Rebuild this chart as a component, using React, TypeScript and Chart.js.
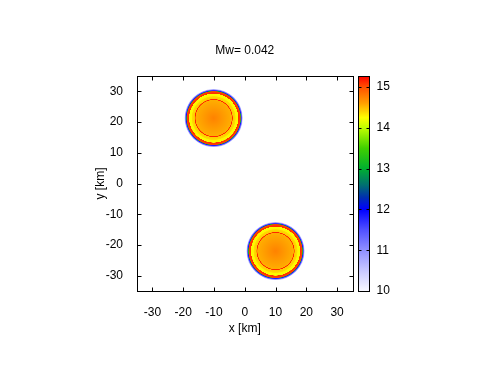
import { useEffect, useRef } from "react";
import { Chart, registerables } from "chart.js";

Chart.register(...registerables);

// ---- data ----
const chartTitle = "Mw= 0.042";
const xTitle = "x [km]";
const yTitle = "y [km]";
const xTicks = [-30, -20, -10, 0, 10, 20, 30];
const yTicks = [-30, -20, -10, 0, 10, 20, 30];
const cbTicks = [10, 11, 12, 13, 14, 15];
const axisMin = -35;
const axisMax = 35;
const cbMin = 10;
const cbMax = 15.27;

// patch centres (km)
const sourceX = [-10.1, 10];
const sourceY = [21.3, -22];
// radial slip profile of each patch: radius (km) -> value
const profileR = [0, 5.85, 5.95, 6.12, 6.22, 7.0, 7.2, 7.95, 8.0, 8.65, 8.8, 8.9, 9.15, 9.45];
const profileV = [14.75, 14.55, 15.15, 15.15, 14.45, 14.38, 14.28, 14.22, 15.12, 15.05, 13.1, 11.9, 11.2, 10.4];

// colour palette
const paletteV = [10.0, 10.5, 11.0, 11.5, 12.0, 12.3, 12.6, 13.0, 13.5, 14.0, 14.25, 14.6, 15.0, 15.27];
const paletteC = [
  "#f8f8ff", "#c8c8ff", "#9090ff", "#5050ff", "#0000ff", "#0030b0", "#007070",
  "#00b030", "#40d000", "#c0ff00", "#ffff00", "#ffa000", "#ff5000", "#ff0000",
];

const FONT = "Liberation Sans, Arial, sans-serif";

function hexToRgb(h: string) {
  const n = parseInt(h.slice(1), 16);
  return [(n >> 16) & 255, (n >> 8) & 255, n & 255];
}
function colorFor(v: number) {
  if (v <= paletteV[0]) return paletteC[0];
  for (let i = 1; i < paletteV.length; i++) {
    if (v <= paletteV[i]) {
      const t = (v - paletteV[i - 1]) / (paletteV[i] - paletteV[i - 1]);
      const a = hexToRgb(paletteC[i - 1]);
      const b = hexToRgb(paletteC[i]);
      const c = a.map((x, k) => Math.round(x + (b[k] - x) * t));
      return `rgb(${c[0]},${c[1]},${c[2]})`;
    }
  }
  return paletteC[paletteC.length - 1];
}

const drawPlugin = {
  id: "mapDraw",
  beforeDatasetsDraw(chart: any) {
    const { ctx, chartArea: a, scales } = chart;
    const xs = scales.x;
    const ys = scales.y;
    ctx.save();
    ctx.beginPath();
    ctx.rect(a.left, a.top, a.right - a.left, a.bottom - a.top);
    ctx.clip();
    const rMax = profileR[profileR.length - 1];
    sourceX.forEach((sx, i) => {
      const cx = xs.getPixelForValue(sx);
      const cy = ys.getPixelForValue(sourceY[i]);
      const rx = Math.abs(xs.getPixelForValue(sx + rMax) - cx);
      const ry = Math.abs(ys.getPixelForValue(sourceY[i] + rMax) - cy);
      ctx.save();
      ctx.translate(cx, cy);
      ctx.scale(1, ry / rx);
      const g = ctx.createRadialGradient(0, 0, 0, 0, 0, rx);
      profileR.forEach((r, k) => g.addColorStop(r / rMax, colorFor(profileV[k])));
      ctx.fillStyle = g;
      ctx.beginPath();
      ctx.arc(0, 0, rx, 0, Math.PI * 2);
      ctx.fill();
      ctx.restore();
    });
    ctx.restore();
  },
  afterDraw(chart: any) {
    const { ctx, chartArea: a, scales } = chart;
    const xs = scales.x;
    const ys = scales.y;
    const cb = scales.cb;
    const L = Math.round(a.left) + 0.5;
    const R = Math.round(a.right) + 0.5;
    const T = Math.round(a.top) + 0.5;
    const B = Math.round(a.bottom) + 0.5;
    ctx.save();
    ctx.strokeStyle = "#000";
    ctx.lineWidth = 1;
    ctx.strokeRect(L, T, R - L, B - T);
    const tl = 4;
    ctx.beginPath();
    xTicks.forEach((v) => {
      const p = Math.round(xs.getPixelForValue(v)) + 0.5;
      ctx.moveTo(p, B);
      ctx.lineTo(p, B - tl);
      ctx.moveTo(p, T);
      ctx.lineTo(p, T + tl);
    });
    yTicks.forEach((v) => {
      const p = Math.round(ys.getPixelForValue(v)) + 0.5;
      ctx.moveTo(L, p);
      ctx.lineTo(L + tl, p);
      ctx.moveTo(R, p);
      ctx.lineTo(R - tl, p);
    });
    ctx.stroke();

    // colour bar
    const bx0 = R + 5;
    const bw = 11;
    const cTop = cb.getPixelForValue(cbMax);
    const cBot = cb.getPixelForValue(cbMin);
    const lg = ctx.createLinearGradient(0, cBot, 0, cTop);
    paletteV.forEach((v, k) => lg.addColorStop((v - cbMin) / (cbMax - cbMin), paletteC[k]));
    ctx.fillStyle = lg;
    ctx.fillRect(bx0, T, bw, B - T);
    ctx.strokeRect(bx0, T, bw, B - T);
    ctx.beginPath();
    cbTicks.forEach((v) => {
      if (v === cbMin) return;
      const p = Math.round(cb.getPixelForValue(v)) + 0.5;
      ctx.moveTo(bx0, p);
      ctx.lineTo(bx0 + 3, p);
      ctx.moveTo(bx0 + bw, p);
      ctx.lineTo(bx0 + bw - 3, p);
    });
    ctx.stroke();

    // titles
    ctx.fillStyle = "#000";
    ctx.font = `12px ${FONT}`;
    ctx.textAlign = "center";
    ctx.textBaseline = "middle";
    const mid = (a.left + a.right) / 2;
    ctx.fillText(chartTitle, mid, 51);
    ctx.fillText(xTitle, mid, 329);
    ctx.translate(101, (a.top + a.bottom) / 2);
    ctx.rotate(-Math.PI / 2);
    ctx.fillText(yTitle, 0, 0);
    ctx.restore();
  },
};

export default function App() {
  const ref = useRef<HTMLCanvasElement | null>(null);
  useEffect(() => {
    if (!ref.current) return;
    const tickFont = { family: FONT, size: 12 };
    const chart = new Chart(ref.current, {
      type: "scatter",
      data: {
        datasets: [
          {
            data: sourceX.map((x, i) => ({ x, y: sourceY[i] })),
            pointRadius: 0,
            showLine: false,
          },
        ],
      },
      options: {
        responsive: false,
        animation: false,
        events: [],
        layout: { padding: { top: 76, left: 0, right: 0, bottom: 0 } },
        plugins: { legend: { display: false }, tooltip: { enabled: false }, title: { display: false } },
        scales: {
          x: {
            type: "linear",
            position: "bottom",
            min: axisMin,
            max: axisMax,
            afterBuildTicks: (s: any) => { s.ticks = xTicks.map((v) => ({ value: v })); },
            afterFit: (s: any) => { s.height = 76; },
            grid: { display: false, drawTicks: false },
            border: { display: false },
            ticks: { font: tickFont, color: "#000", padding: 14, maxRotation: 0, autoSkip: false },
          },
          y: {
            type: "linear",
            position: "left",
            min: axisMin,
            max: axisMax,
            afterBuildTicks: (s: any) => { s.ticks = yTicks.map((v) => ({ value: v })); },
            afterFit: (s: any) => { s.width = 137; },
            grid: { display: false, drawTicks: false },
            border: { display: false },
            ticks: { font: tickFont, color: "#000", padding: 14, autoSkip: false },
          },
          cb: {
            type: "linear",
            axis: "y",
            position: "right",
            min: cbMin,
            max: cbMax,
            afterBuildTicks: (s: any) => { s.ticks = cbTicks.map((v) => ({ value: v })); },
            afterFit: (s: any) => { s.width = 136.5; },
            grid: { display: false, drawTicks: false },
            border: { display: false },
            ticks: { font: tickFont, color: "#000", padding: 24, autoSkip: false },
          },
        },
      } as any,
      plugins: [drawPlugin],
    });
    return () => chart.destroy();
  }, []);
  return (
    <div style={{ position: "absolute", left: 0, top: 0, width: 489, height: 367 }}>
      <canvas ref={ref} width={489} height={367} />
    </div>
  );
}
